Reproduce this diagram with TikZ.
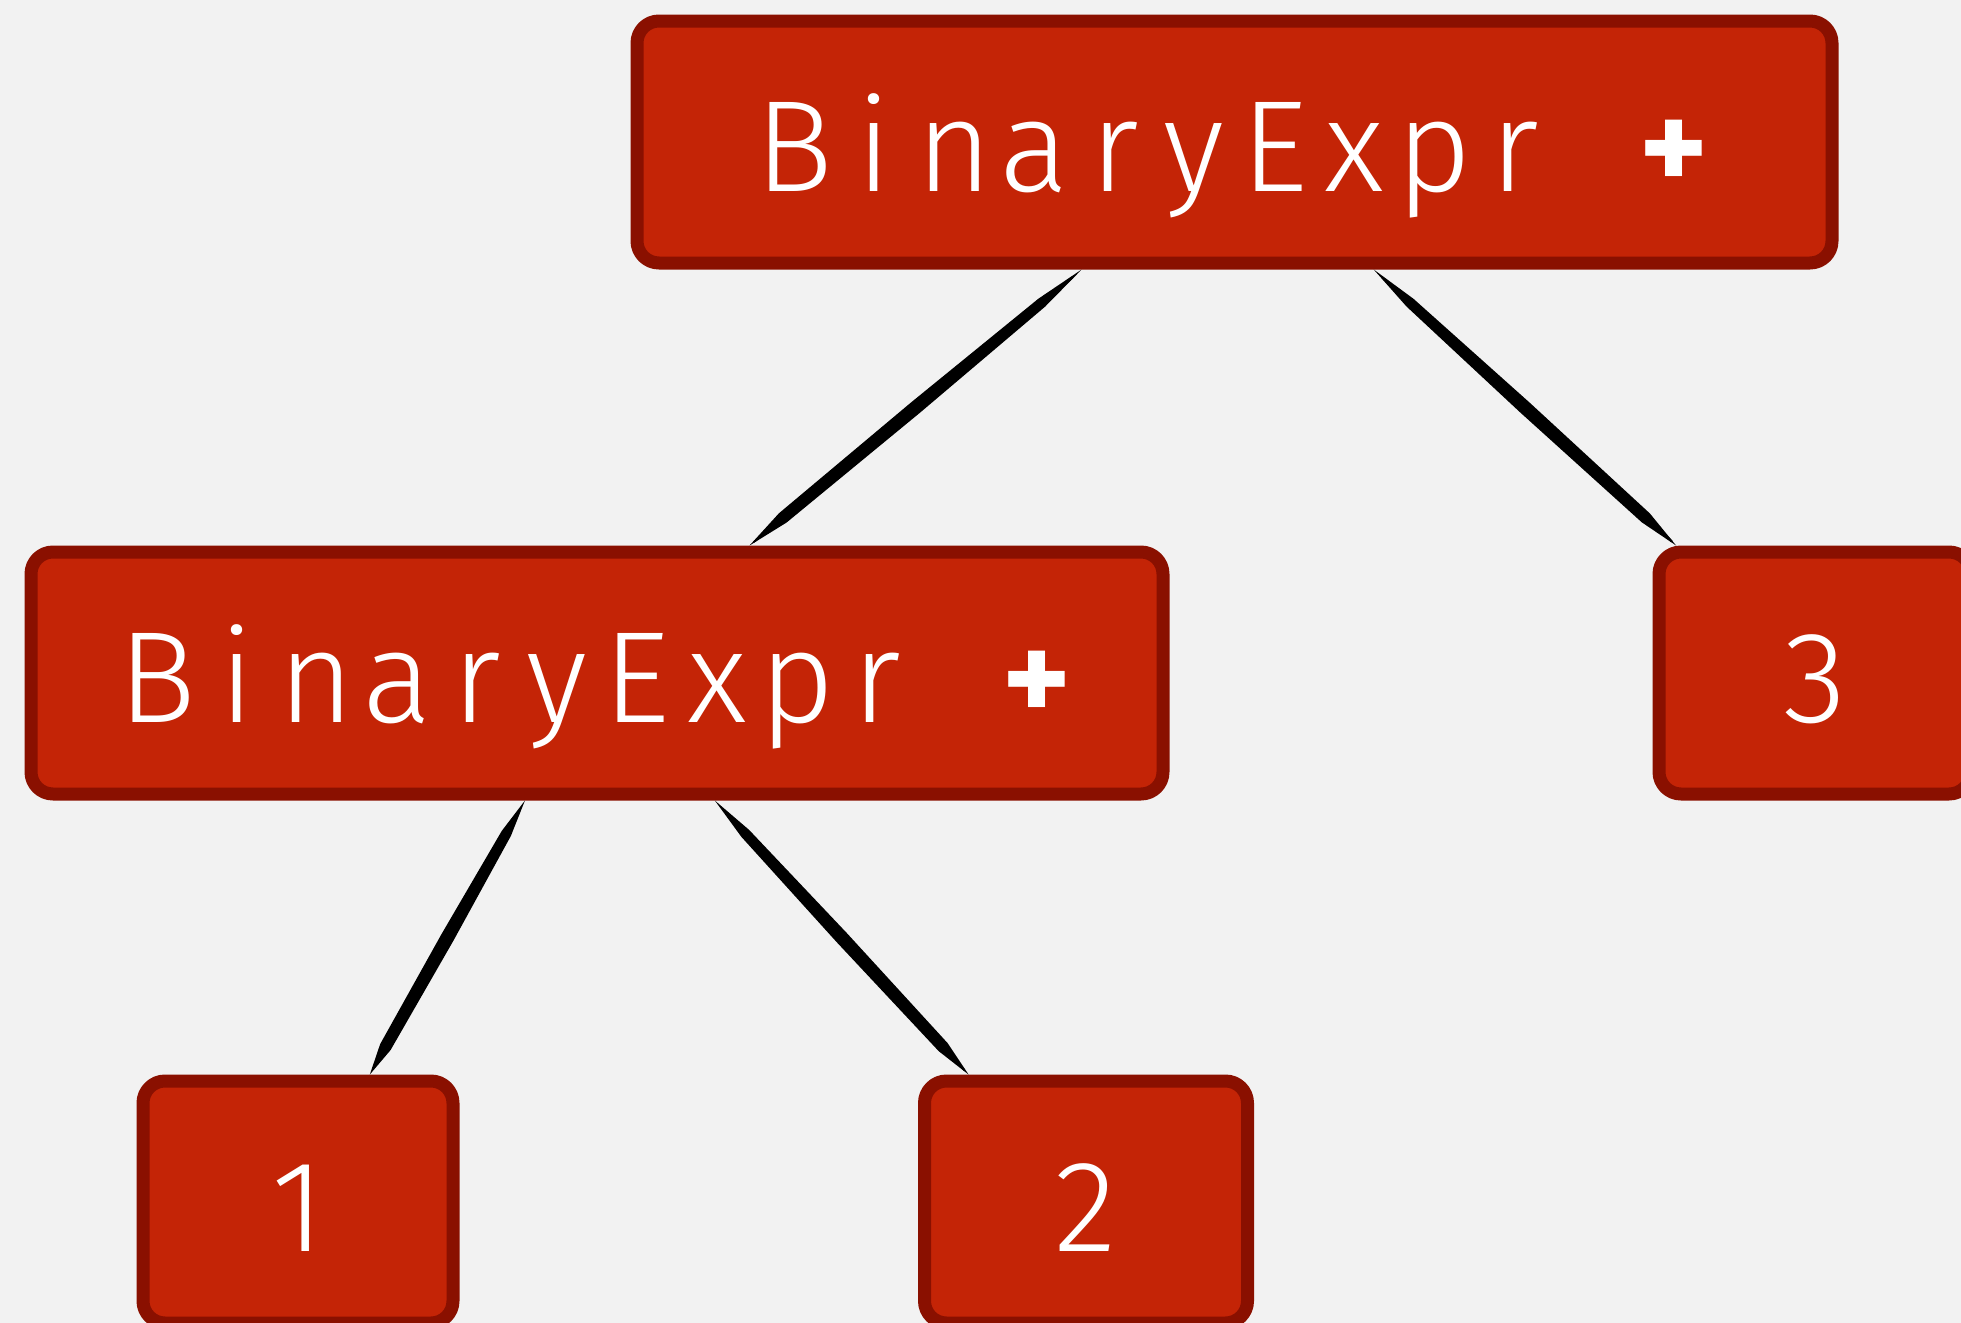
\documentclass[tikz,border=0pt]{standalone}
\usepackage{fontspec}
\setmainfont{Fira Sans}[UprightFont={* Light},BoldFont={* Bold}]
\usetikzlibrary{decorations.pathmorphing,calc}
\definecolor{bg}{HTML}{F2F2F2}
\definecolor{boxfill}{HTML}{C42406}
\definecolor{boxline}{HTML}{8A1000}
\makeatletter
\newcommand\monostr[1]{\@tfor\mch:=#1\do{\makebox[40pt]{\mch}}}
\makeatother
\newcommand\opplus{\makebox[40pt]{}\makebox[40pt]{\bfseries +}}
\tikzset{
  box/.style={draw=boxline, fill=boxfill, line width=6.5pt, rounded corners=11pt,
    line join=round, inner sep=0pt, minimum height=121pt, text=white,
    text height=49pt, text depth=0pt,
    font=\fontsize{65}{72}\selectfont},
  brushhair/.style={draw=black, line width=0.6pt, line cap=round, shorten <=6pt, shorten >=3pt,
    rounded corners=10pt,
    decorate, decoration={random steps, segment length=30pt, amplitude=1.6pt}},
  brush/.style={fill=black, line join=round}
}
\newcommand\brushedge[3]{%
  \path (#1) -- (#2) coordinate[pos=0] (#3a) coordinate[pos=1] (#3b);
  \coordinate (#3p1) at ($(#3a)!0.12!(#3b)!2.6pt!90:(#3b)$);
  \coordinate (#3p2) at ($(#3a)!0.5!(#3b)!3.4pt!90:(#3b)$);
  \coordinate (#3p3) at ($(#3a)!0.9!(#3b)!3pt!90:(#3b)$);
  \coordinate (#3q1) at ($(#3a)!0.12!(#3b)!2.6pt!-90:(#3b)$);
  \coordinate (#3q2) at ($(#3a)!0.5!(#3b)!3.4pt!-90:(#3b)$);
  \coordinate (#3q3) at ($(#3a)!0.9!(#3b)!3pt!-90:(#3b)$);
  \fill[brush] (#3a) -- (#3p1) -- (#3p2) -- (#3p3) -- (#3b)
     -- (#3q3) -- (#3q2) -- (#3q1) -- cycle;
  \foreach \k in {1,...,5}{\draw[brushhair] (#3a) -- (#3b);}
}
\begin{document}
\begin{tikzpicture}[x=0.5pt,y=-0.5pt]
\pgfmathsetseed{11}
\fill[bg] (0,0) rectangle (1961,1323);
\useasboundingbox (0,0) rectangle (1961,1323);
\node[box, minimum width=597.5pt] (top) at (1234.5,142) {\monostr{BinaryExpr}\opplus};
\node[box, minimum width=566pt] (mid) at (597,673) {\monostr{BinaryExpr}\opplus};
\node[box, minimum width=156pt] (n3) at (1815,673) {3};
\node[box, minimum width=155pt] (n1) at (298,1202) {1};
\node[box, minimum width=161.5pt] (n2) at (1086,1202) {2};
\brushedge{top}{mid}{ea}
\brushedge{top}{n3}{eb}
\brushedge{mid}{n1}{ec}
\brushedge{mid}{n2}{ed}
\end{tikzpicture}
\end{document}
